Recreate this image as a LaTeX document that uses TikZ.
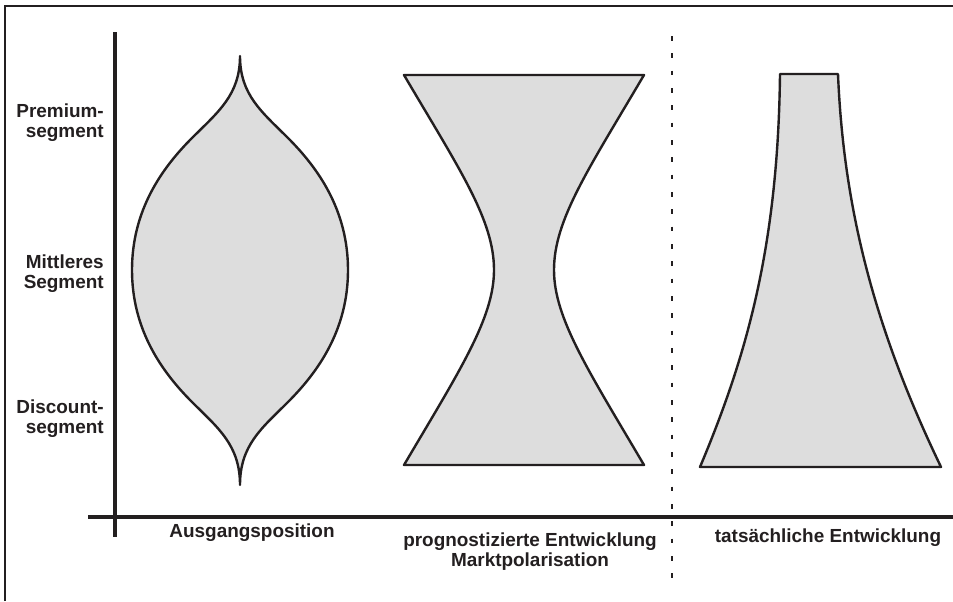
\documentclass[tikz,border=0pt]{standalone}
\usepackage{fontspec}
\setmainfont{Liberation Sans}
\definecolor{ink}{HTML}{231F20}
\definecolor{shade}{HTML}{DDDDDD}
\begin{document}
\begin{tikzpicture}[x=0.75pt,y=-0.75pt,
  blob/.style={draw=ink, fill=shade, line width=1.8pt, line join=round},
  axisline/.style={draw=ink, line width=2.4pt},
  lbl/.style={font=\fontsize{14.2}{15}\selectfont\bfseries, text=ink, inner sep=0pt},
  ]
\useasboundingbox (0,0) rectangle (953,601);
\fill[white] (0,0) rectangle (953,601);
% frame
\draw[ink, line width=2.1pt] (5,601) -- (5,6) -- (953,6);
% axes
\coordinate (vtop) at (115,32);
\coordinate (vbot) at (115,537);
\coordinate (hl) at (88,517);
\coordinate (hr) at (953,517);
\draw[axisline] (vtop) -- (vbot);
\draw[axisline] (hl) -- (hr);
% dotted separator
\coordinate (dtop) at (672,36);
\coordinate (dbot) at (672,578);
\draw[ink, line width=1.6pt, dash pattern=on 3.5pt off 9.5pt] (dtop) -- (dbot);
% lens shape (Ausgangsposition)
\draw[blob] (240,56)
  .. controls (240,95) and (262,112) .. (288,138)
  .. controls (318,168) and (348,210) .. (348,270)
  .. controls (348,330) and (318,372) .. (288,402)
  .. controls (262,428) and (240,445) .. (240,485)
  .. controls (240,445) and (218,428) .. (192,402)
  .. controls (162,372) and (132,330) .. (132,270)
  .. controls (132,210) and (162,168) .. (192,138)
  .. controls (218,112) and (240,95) .. (240,56) -- cycle;
% hourglass (prognostizierte Entwicklung)
\draw[blob] (404,75) -- (644,75)
  .. controls (588,170) and (554,220) .. (554,270)
  .. controls (554,318) and (588,370) .. (644,465)
  -- (404,465)
  .. controls (460,370) and (494,318) .. (494,270)
  .. controls (494,220) and (460,170) .. (404,75) -- cycle;
% trumpet (tatsaechliche Entwicklung)
\draw[blob] (780,74) -- (838,74)
  .. controls (844,220) and (880,340) .. (941,467)
  -- (700,467)
  .. controls (745,360) and (778,250) .. (780,74) -- cycle;
% labels
\node[lbl, anchor=east, align=right] (prem) at (104,123) {Premium-\\segment};
\node[lbl, anchor=east, align=right] (mitt) at (104,274) {Mittleres\\Segment};
\node[lbl, anchor=east, align=right] (disc) at (104,419) {Discount-\\segment};
\node[lbl, align=center] (ausg) at (252,532.5) {Ausgangsposition};
\node[lbl, align=center] (prog) at (530,552) {prognostizierte Entwicklung\\Marktpolarisation};
\node[lbl, align=center] (tats) at (828,537.5) {tatsächliche Entwicklung};
\end{tikzpicture}
\end{document}
